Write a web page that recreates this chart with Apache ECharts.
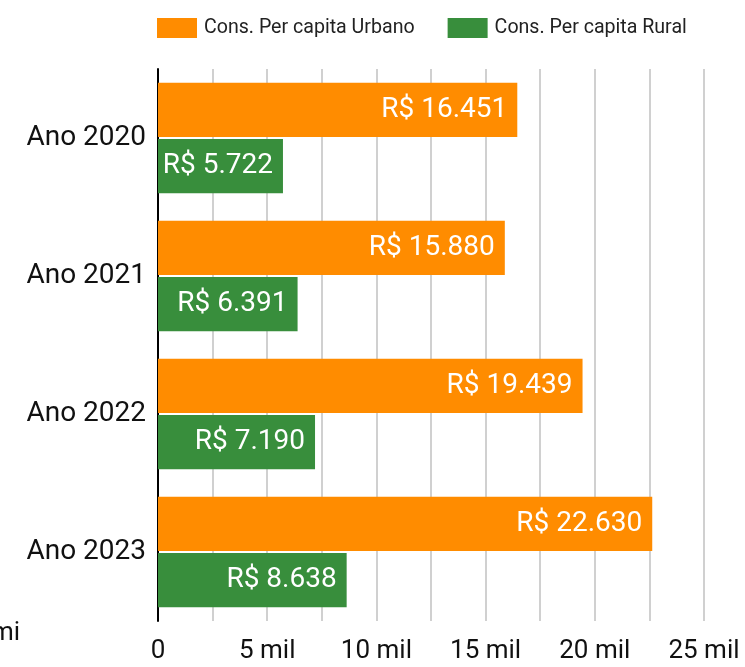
<!DOCTYPE html>
<html>
<head>
<meta charset="utf-8">
<script src="https://cdn.jsdelivr.net/npm/echarts@6/dist/echarts.min.js"></script>
<style>
    html, body { margin: 0; padding: 0; background: #fff; }
    #chart { width: 745px; height: 667px; }
</style>
</head>
<body>
<div id="chart"></div>
<script>
    // dados do gráfico
    const anos = ['Ano 2020', 'Ano 2021', 'Ano 2022', 'Ano 2023']
    const urbano = [16451, 15880, 19439, 22630]
    const rural = [5722, 6391, 7190, 8638]
    const nomes = ['Cons. Per capita Urbano', 'Cons. Per capita Rural']

    const fmtReal = v => 'R$ ' + v.toLocaleString('pt-BR')
    const fmtMil = v => v === 0 ? '0' : (v % 5000 === 0 ? v / 1000 + ' mil' : '')

    const chart = echarts.init(document.getElementById('chart'))
    const labelCfg = {
        show: true,
        position: 'insideRight',
        distance: 10,
        color: '#fff',
        fontFamily: 'Roboto',
        fontSize: 28,
        formatter: p => fmtReal(p.value)
    }
    chart.setOption({
        animation: false,
        textStyle: { fontFamily: 'Roboto' },
        color: ['#ff8c00', '#388e3c'],
        legend: {
            data: nomes,
            left: 152,
            top: 13,
            itemWidth: 40,
            itemHeight: 20,
            itemGap: 33,
            icon: 'rect',
            textStyle: { fontSize: 19.6, color: '#222', padding: [0, 0, 0, 2] }
        },
        grid: { left: 158, right: 41, top: 69, bottom: 46 },
        xAxis: {
            type: 'value',
            min: 0,
            max: 25000,
            interval: 2500,
            axisLine: { show: false },
            axisTick: { show: false },
            splitLine: { lineStyle: { color: '#d0d0d0', width: 2 } },
            axisLabel: {
                formatter: fmtMil,
                fontSize: 26,
                color: '#111',
                margin: 17,
                verticalAlign: 'top'
            }
        },
        yAxis: {
            type: 'category',
            data: anos,
            inverse: true,
            axisLine: { lineStyle: { color: '#000', width: 2 } },
            axisTick: { show: false },
            axisLabel: { fontSize: 28, color: '#111', margin: 12 }
        },
        graphic: [{
            type: 'text',
            left: -9,
            top: 620,
            style: { text: 'mi', fontSize: 26, fill: '#111', fontFamily: 'Roboto' }
        }],
        series: [
            {
                name: nomes[0],
                type: 'bar',
                data: urbano,
                barCategoryGap: '20%',
                barGap: '4%',
                label: labelCfg
            },
            {
                name: nomes[1],
                type: 'bar',
                data: rural,
                barCategoryGap: '20%',
                barGap: '4%',
                label: labelCfg
            }
        ]
    })
</script>
</body>
</html>
